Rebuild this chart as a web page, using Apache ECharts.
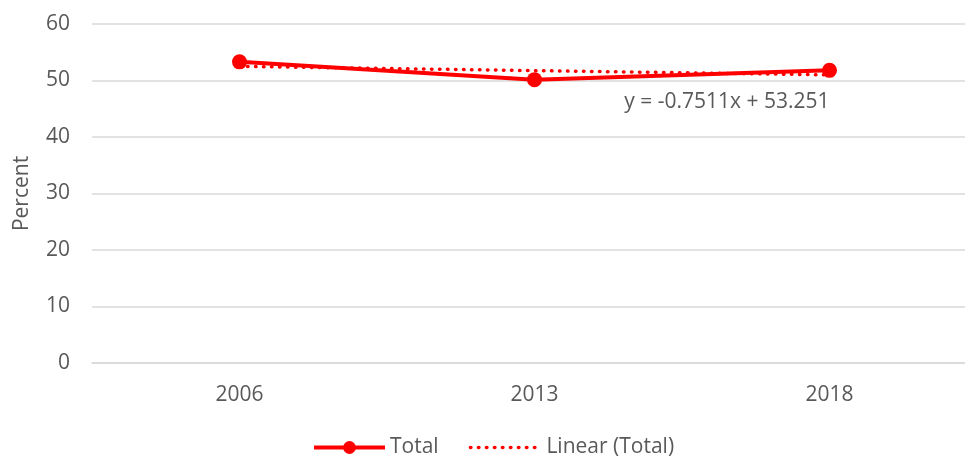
<!DOCTYPE html>
<html>
<head>
<meta charset="utf-8">
<script src="https://cdn.jsdelivr.net/npm/echarts@6/dist/echarts.min.js"></script>
<style>
  html, body { margin: 0; padding: 0; background: #fff; }
  #chart { width: 965px; height: 456px; }
</style>
</head>
<body>
<div id="chart"></div>
<script>
// Survey years and share (percent)
const years = ['2006', '2013', '2018'];
const totalValues = [53.3, 50.15, 51.8];
// Least-squares trendline y = -0.7511x + 53.251, evaluated at x = 1..3
const trendValues = [52.4999, 51.7488, 50.9977];
const trendLabel = 'y = -0.7511x + 53.251';
const yTicks = [0, 10, 20, 30, 40, 50, 60];

const font = 'Open Sans';
const fontSize = 21;
const grey = '#595959';
const red = '#ff0000';
const dotted = [0.5, 7.5];

const chart = echarts.init(document.getElementById('chart'));
chart.setOption({
  animation: false,
  textStyle: { fontFamily: font },
  // plot area runs past the right edge of the canvas
  grid: { left: 92, width: 885, top: 24, height: 339, containLabel: false, outerBoundsMode: 'none' },
  legend: {
    top: 432,
    left: 307,
    itemWidth: 71,
    itemHeight: 16,
    itemGap: 30,
    textStyle: { color: grey, fontSize: fontSize, fontFamily: font },
    data: [
      { name: 'Total', lineStyle: { width: 4 } },
      { name: 'Linear (Total)', itemStyle: { opacity: 0 }, lineStyle: { width: 3.5, type: dotted, cap: 'round' } }
    ]
  },
  xAxis: {
    type: 'category',
    data: years,
    boundaryGap: true,
    axisLine: { show: true, lineStyle: { color: '#d9d9d9', width: 1.5 } },
    axisTick: { show: false },
    axisLabel: { color: grey, fontSize: fontSize, margin: 22, fontFamily: font }
  },
  yAxis: {
    type: 'value',
    min: yTicks[0],
    max: yTicks[yTicks.length - 1],
    interval: 10,
    name: 'Percent',
    nameLocation: 'middle',
    nameGap: 59,
    nameRotate: 90,
    nameTextStyle: { color: grey, fontSize: fontSize, fontFamily: font },
    axisLine: { show: false },
    axisTick: { show: false },
    axisLabel: { color: grey, fontSize: fontSize, margin: 22, fontFamily: font },
    splitLine: { lineStyle: { color: '#d9d9d9', width: 1.5 } }
  },
  series: [
    {
      name: 'Linear (Total)',
      type: 'line',
      data: trendValues,
      symbol: 'none',
      z: 2,
      lineStyle: { color: red, width: 3.5, type: dotted, cap: 'round' },
      itemStyle: { color: red },
      markPoint: {
        symbol: 'circle',
        symbolSize: 0,
        data: [{
          coord: [years.length - 1, trendValues[trendValues.length - 1]],
          label: {
            show: true,
            formatter: trendLabel,
            position: 'inside',
            align: 'right',
            verticalAlign: 'middle',
            offset: [0, 27],
            color: grey,
            fontSize: fontSize,
            fontFamily: font
          }
        }]
      }
    },
    {
      name: 'Total',
      type: 'line',
      data: totalValues,
      symbol: 'circle',
      symbolSize: 15,
      z: 3,
      lineStyle: { color: red, width: 4 },
      itemStyle: { color: red }
    }
  ]
});
</script>
</body>
</html>
